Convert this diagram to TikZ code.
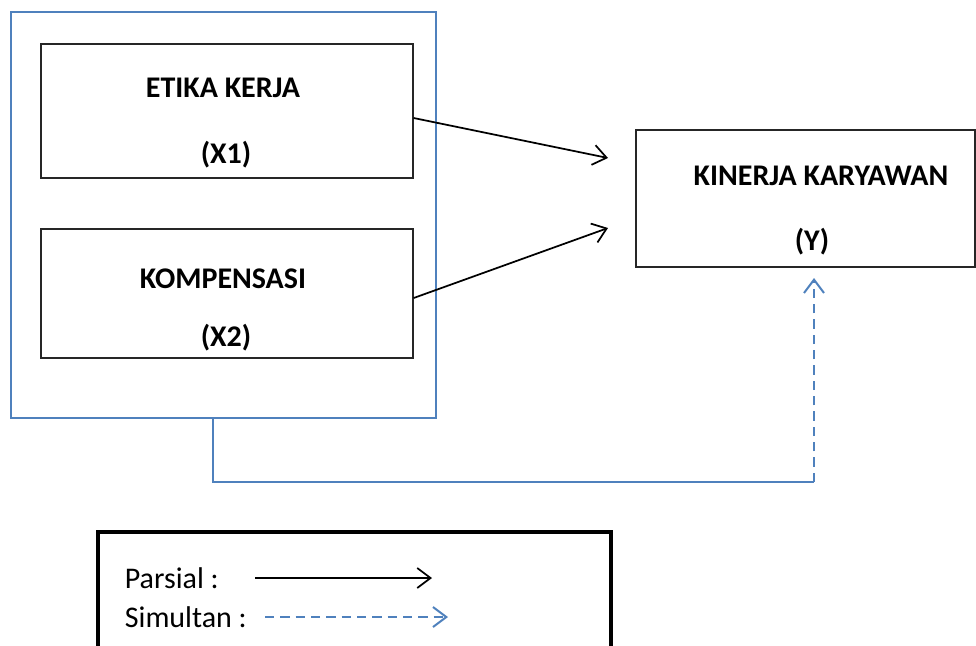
\documentclass[tikz,border=0pt]{standalone}
\usepackage{fontspec}
\setmainfont{Carlito}
\usetikzlibrary{arrows.meta}

\definecolor{grpblue}{RGB}{79,129,189}
\tikzset{every picture/.style={line width=1.3pt}}
\tikzset{
  varbox/.style={draw=black!85,line width=0.9pt,rectangle,inner sep=0pt},
  grpbox/.style={draw=grpblue,line width=1.6pt,rectangle,inner sep=0pt},
  lbl/.style={inner sep=0.75pt,font=\fontsize{22.5}{27}\selectfont\bfseries},
  legtxt/.style={inner sep=0.75pt,anchor=west,font=\fontsize{22.5}{27}\selectfont},
  parsial/.style={draw=black,line width=1.3pt,-{Straight Barb[length=10pt,width=15pt]}},
  simultan/.style={draw=grpblue,line width=1.5pt,dash pattern={on 7pt off 4.5pt},-{Straight Barb[length=10pt,width=15pt]}}
}

\begin{document}
\begin{tikzpicture}[x=0.75pt,y=0.75pt,yscale=-1,xscale=1]
			\useasboundingbox (0,0) rectangle (976,646);
			
			%Shape: Rectangle [group]
			\node [grpbox,minimum width=318.75pt,minimum height=304.5pt] (grp) at (223.5,215) {};
			%Shape: Rectangle [X1]
			\node [varbox,minimum width=279pt,minimum height=100.5pt] (x1) at (227,111) {};
			%Shape: Rectangle [X2]
			\node [varbox,minimum width=279pt,minimum height=96.75pt] (x2) at (227,293.5) {};
			%Shape: Rectangle [Y]
			\node [varbox,minimum width=254.25pt,minimum height=102.75pt] (y) at (805.5,198.5) {};
			
			% Text Node
			\node [lbl] (x1name) at (223,88) {ETIKA KERJA};
			% Text Node
			\node [lbl] (x1code) at (226,155) {(X1)};
			% Text Node
			\node [lbl] (x2name) at (223,279) {KOMPENSASI};
			% Text Node
			\node [lbl] (x2code) at (226,338) {(X2)};
			% Text Node
			\node [lbl] (yname) at (821,176) {KINERJA KARYAWAN};
			% Text Node
			\node [lbl] (ycode) at (812,242) {(Y)};
			
			%Coordinates of arrow tips
			\coordinate (yin1) at (608,158);
			\coordinate (yin2) at (608,228);
			\coordinate (ytip) at (814,278);
			\coordinate (corner) at (213,482);
			
			%Straight Lines [X1 -> Y]
			\draw [parsial] ([yshift=5.25pt]x1.east) -- (yin1);
			%Straight Lines [X2 -> Y]
			\draw [parsial] ([yshift=3.4pt]x2.east) -- (yin2);
			%Connector [group -> Y]
			\draw [grpblue,line width=1.6pt] (corner |- grp.south) -- (corner) -- (corner -| ytip);
			\draw [simultan] (corner -| ytip) -- (ytip);
			
			%Legend box
			\draw [line width=3pt] (98,646) -- (98,532) -- (611,532) -- (611,646);
			% Text Node
			\node [legtxt] (legp) at (123,578) {Parsial :};
			% Text Node
			\node [legtxt] (legs) at (123,617) {Simultan :};
			\draw [parsial] (legp.east -| 255,0) -- (legp.east -| 432,0);
			\draw [simultan] (legs.east -| 265,0) -- (legs.east -| 448,0);
\end{tikzpicture}
\end{document}
